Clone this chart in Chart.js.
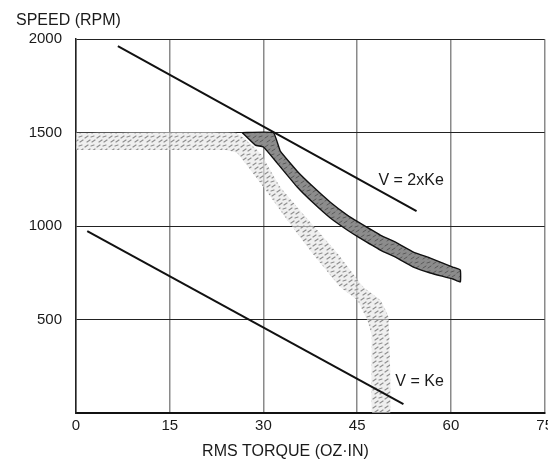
<!DOCTYPE html>
<html><head><meta charset="utf-8">
<script src="https://cdn.jsdelivr.net/npm/chart.js@4/dist/chart.umd.min.js"></script>
<style>html,body{margin:0;padding:0;background:#fff;overflow:hidden;width:548px;height:461px}canvas{display:block}</style>
</head><body>
<canvas id="c" width="557" height="461"></canvas>
<script>
// ---- data ----
const xTicks = [0, 15, 30, 45, 60, 75];
const yTicks = [0, 500, 1000, 1500, 2000];
const yTickLabels = ['', '500', '1000', '1500', '2000'];
const xTitle = 'RMS TORQUE (OZ\u00B7IN)';
const yTitle = 'SPEED (RPM)';
const lineLabels = ['V = 2xKe', 'V = Ke'];
const lineV2Ke = [{x: 6.7, y: 1963}, {x: 54.5, y: 1080}];
const lineVKe = [{x: 1.8, y: 973}, {x: 52.4, y: 48}];
const darkUpper = [{x:26.6,y:1500},{x:31.6,y:1500},{x:32.7,y:1401},{x:35.4,y:1294},{x:38.0,y:1209},{x:40.7,y:1128},{x:43.4,y:1059},{x:45.2,y:1021},{x:48.7,y:952},{x:51.4,y:909},{x:54.0,y:861},{x:56.7,y:829},{x:60.3,y:781},{x:61.5,y:765}];
const darkLower = [{x:28.7,y:1433},{x:30.0,y:1423},{x:32.2,y:1337},{x:35.4,y:1209},{x:38.0,y:1123},{x:40.7,y:1043},{x:43.4,y:979},{x:45.2,y:941},{x:48.7,y:872},{x:51.4,y:829},{x:54.0,y:781},{x:56.7,y:749},{x:60.3,y:717},{x:61.5,y:701}];
const lightUpper = [{x:0,y:1500},{x:25.6,y:1500},{x:29.5,y:1390},{x:32.7,y:1209},{x:37.2,y:1032},{x:41.8,y:856},{x:46.0,y:674},{x:48.7,y:604},{x:50.0,y:513},{x:50.3,y:0}];
const lightLower = [{x:0,y:1407},{x:23.9,y:1407},{x:25.8,y:1390},{x:30.0,y:1209},{x:33.8,y:1032},{x:37.8,y:856},{x:42.3,y:674},{x:45.0,y:604},{x:46.6,y:497},{x:47.3,y:417},{x:47.4,y:0}];

const FONT = '"Liberation Sans", Arial, Helvetica, sans-serif';
const darkPoly = darkUpper.concat(darkLower.slice().reverse(), [darkUpper[0]]);
const lightPoly = lightUpper.concat(lightLower.slice().reverse());

function makePattern(ctx, bg, fg, w) {
  const c = document.createElement('canvas'); c.width = 12; c.height = 9;
  const g = c.getContext('2d');
  g.fillStyle = bg; g.fillRect(0, 0, 12, 9);
  g.strokeStyle = fg; g.lineWidth = w; g.lineCap = 'round';
  [[1,3,4,1],[7,2,10,1],[3,7,6,5],[8,7,11,5]].forEach(s => { g.beginPath(); g.moveTo(s[0], s[1]); g.lineTo(s[2], s[3]); g.stroke(); });
  return ctx.createPattern(c, 'repeat');
}

const canvas = document.getElementById('c');
const ctx0 = canvas.getContext('2d');

const textPlugin = {
  id: 'txt',
  afterDraw(chart) {
    const {ctx, scales: {x, y}} = chart;
    ctx.save();
    ctx.font = '16px ' + FONT;
    ctx.fillStyle = '#1a1a1a';
    ctx.textBaseline = 'middle';
    ctx.textAlign = 'left';
    ctx.fillText(lineLabels[0], x.getPixelForValue(48.4), y.getPixelForValue(1246));
    ctx.fillText(lineLabels[1], x.getPixelForValue(51.1), y.getPixelForValue(166));
    ctx.textAlign = 'center';
    ctx.fillText(xTitle, 285.5, 452);
    ctx.restore();
  }
};

new Chart(canvas, {
  type: 'scatter',
  data: {
    datasets: [
      {data: lineV2Ke, showLine: true, borderColor: '#111', borderWidth: 2, pointRadius: 0, fill: false, order: 1},
      {data: lineVKe, showLine: true, borderColor: '#111', borderWidth: 2, pointRadius: 0, fill: false, order: 1},
      {data: darkPoly, showLine: true, borderColor: '#111', borderWidth: 1.4, backgroundColor: makePattern(ctx0, '#8c8c8c', '#5a5a5a', 1), pointRadius: 0, fill: 'shape', tension: 0.1, order: 2},
      {data: lightPoly, showLine: true, borderColor: 'rgba(0,0,0,0)', borderWidth: 0, backgroundColor: makePattern(ctx0, 'rgba(228,228,228,0.6)', '#8f8f8f', 1.2), pointRadius: 0, fill: 'shape', tension: 0.1, order: 3}
    ]
  },
  options: {
    responsive: false,
    animation: false,
    layout: {padding: {left: 16, right: 0, top: 0, bottom: 0}},
    plugins: {
      legend: {display: false},
      tooltip: {enabled: false},
      title: {display: true, text: yTitle, align: 'start', color: '#1a1a1a',
        font: {family: FONT, size: 16, weight: 'normal', lineHeight: 1.2}, padding: {top: 11, bottom: 9}}
    },
    scales: {
      x: {
        type: 'linear', min: 0, max: 75,
        afterBuildTicks: s => { s.ticks = xTicks.map(v => ({value: v})); },
        afterFit: s => { s.height = 48; },
        ticks: {padding: 4, color: '#1a1a1a', font: {family: FONT, size: 15}, maxRotation: 0,
          callback: v => String(v)},
        grid: {color: '#8a8a8a', lineWidth: 1.5, drawTicks: false},
        border: {color: '#111', width: 2}
      },
      y: {
        type: 'linear', min: 0, max: 2000,
        afterBuildTicks: s => { s.ticks = yTicks.map(v => ({value: v})); },
        afterFit: s => { s.width = 60; },
        ticks: {padding: 14, color: '#1a1a1a', font: {family: FONT, size: 15},
          callback: (v) => yTickLabels[yTicks.indexOf(v)]},
        grid: {color: '#222', lineWidth: 1, drawTicks: false},
        border: {color: '#222', width: 1.5}
      }
    }
  },
  plugins: [textPlugin]
});
</script>
</body></html>
